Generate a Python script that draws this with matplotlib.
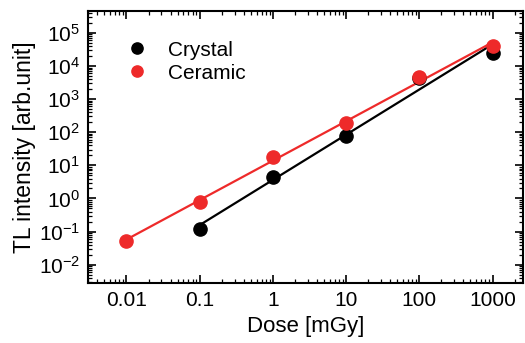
import numpy as np
import matplotlib
matplotlib.use("Agg")
import matplotlib.pyplot as plt
from matplotlib.ticker import LogLocator, NullFormatter, FixedLocator, FixedFormatter

plt.rcParams['font.family'] = ['Liberation Sans', 'DejaVu Sans']

# dose [mGy] and TL response
dose_crystal = [0.1, 1, 10, 100, 1000]
tl_crystal = [0.12, 4.3, 75, 4400, 25000]
dose_ceramic = [0.01, 0.1, 1, 10, 100, 1000]
tl_ceramic = [0.053, 0.8, 18, 190, 4600, 40000]

x_ticks = [0.01, 0.1, 1, 10, 100, 1000]
x_ticklabels = ['0.01', '0.1', '1', '10', '100', '1000']

black = '#000000'
red = '#ee2a2a'

fig = plt.figure(figsize=(5.25, 3.43), dpi=100)
ax = fig.add_axes([0.168, 0.175, 0.828, 0.793])

def powerfit(x, y):
    p = np.polyfit(np.log10(x), np.log10(y), 1)
    xx = np.logspace(np.log10(min(x)), np.log10(max(x)), 50)
    return xx, 10 ** np.polyval(p, np.log10(xx))

xx, yy = powerfit(dose_crystal, tl_crystal)
ax.plot(xx, yy, color=black, lw=1.6)
xx, yy = powerfit(dose_ceramic, tl_ceramic)
ax.plot(xx, yy, color=red, lw=1.6)

ax.plot(dose_crystal, tl_crystal, 'o', color=black, ms=9.5, label='Crystal')
ax.plot(dose_ceramic, tl_ceramic, 'o', color=red, ms=9.5, label='Ceramic')

ax.set_xscale('log')
ax.set_yscale('log')
ax.set_xlim(0.003, 2600)
ax.set_ylim(0.0028, 4.6e5)

ax.xaxis.set_major_locator(FixedLocator(x_ticks))
ax.xaxis.set_major_formatter(FixedFormatter(x_ticklabels))
ax.xaxis.set_minor_locator(LogLocator(base=10, subs=np.arange(2, 10), numticks=20))
ax.xaxis.set_minor_formatter(NullFormatter())
ax.yaxis.set_major_locator(LogLocator(base=10, numticks=20))
ax.yaxis.set_minor_locator(LogLocator(base=10, subs=np.arange(2, 10), numticks=20))
ax.yaxis.set_minor_formatter(NullFormatter())

ax.tick_params(which='both', direction='in', top=True, right=True, labelsize=15)
ax.tick_params(which='major', length=6, width=1.2, pad=6)
ax.tick_params(which='minor', length=3, width=0.9)
for s in ax.spines.values():
    s.set_linewidth(1.5)

ax.set_xlabel('Dose [mGy]', fontsize=16, labelpad=4)
ax.set_ylabel('TL intensity [arb.unit]', fontsize=16.5, labelpad=2)

ax.legend(loc='upper left', frameon=False, fontsize=15, markerscale=0.85,
          handlelength=1.0, handletextpad=1.0, labelspacing=0.2,
          bbox_to_anchor=(0.045, 0.96))

fig.savefig('out.png', dpi=100)
